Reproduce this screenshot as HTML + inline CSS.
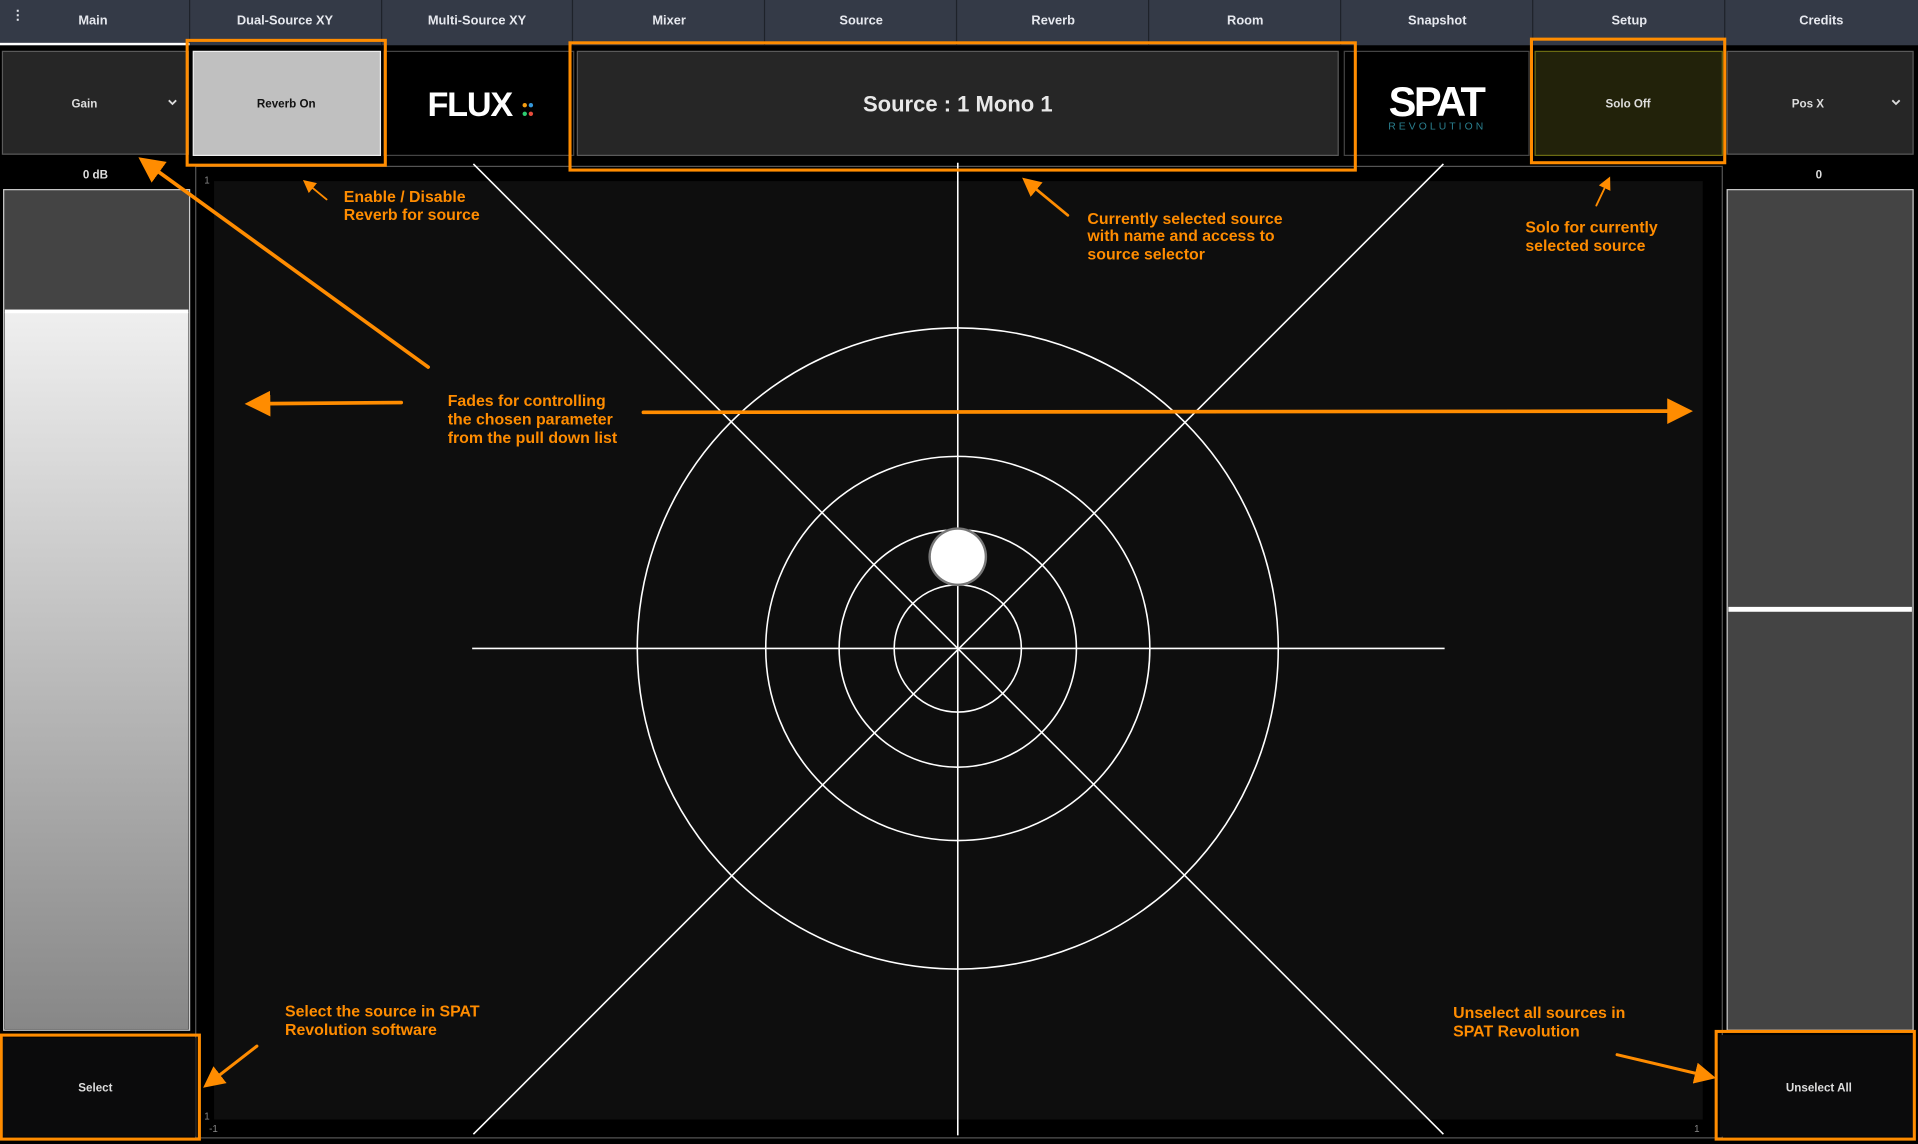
<!DOCTYPE html>
<html><head><meta charset="utf-8"><style>
html,body{margin:0;padding:0;background:#000;overflow:hidden}
svg{display:block}
text{font-family:"Liberation Sans",sans-serif}
</style></head><body>
<svg width="1918" height="1144" viewBox="0 0 1568 935" preserveAspectRatio="none" xmlns="http://www.w3.org/2000/svg">
<defs>
<linearGradient id="g" x1="0" y1="0" x2="0" y2="1"><stop offset="0" stop-color="#efefef"/><stop offset="1" stop-color="#878787"/></linearGradient>
<marker id="ah2" markerWidth="7" markerHeight="7" refX="5" refY="3.5" orient="auto" markerUnits="strokeWidth"><path d="M0,0 L7,3.5 L0,7 z" fill="#ff8c00"/></marker>
</defs>
<rect width="1568" height="935" fill="#000"/>
<rect x="0" y="0" width="1568" height="37" fill="#343a47"/>
<g stroke="#1e222a" stroke-width="1">
<line x1="155" y1="0" x2="155" y2="37"/><line x1="312" y1="0" x2="312" y2="37"/><line x1="468" y1="0" x2="468" y2="37"/><line x1="625" y1="0" x2="625" y2="37"/><line x1="782" y1="0" x2="782" y2="37"/><line x1="939" y1="0" x2="939" y2="37"/><line x1="1096" y1="0" x2="1096" y2="37"/><line x1="1253" y1="0" x2="1253" y2="37"/><line x1="1410" y1="0" x2="1410" y2="37"/>
</g>
<rect x="0" y="35" width="155" height="2" fill="#fff"/>
<g fill="#e6e8ee" font-size="10.5" font-weight="bold" text-anchor="middle">
<text x="76" y="20">Main</text><text x="233" y="20">Dual-Source XY</text><text x="390" y="20">Multi-Source XY</text><text x="547" y="20">Mixer</text><text x="704" y="20">Source</text><text x="861" y="20">Reverb</text><text x="1018" y="20">Room</text><text x="1175" y="20">Snapshot</text><text x="1332" y="20">Setup</text><text x="1489" y="20">Credits</text>
</g>
<text x="9" y="16" fill="#e6e8ee" font-size="11" font-weight="bold">⋮</text>
<rect x="2" y="42" width="152" height="84" fill="#262626" stroke="#5a5a5a"/>
<text x="69" y="88" fill="#ddd" font-size="9.5" font-weight="bold" text-anchor="middle">Gain</text>
<path d="M138,82 l3,3 l3,-3" stroke="#ddd" stroke-width="1.5" fill="none"/>
<rect x="158" y="42" width="153" height="85" fill="#c0c0c0" stroke="#eee"/>
<text x="234" y="88" fill="#111" font-size="9.5" font-weight="bold" text-anchor="middle">Reverb On</text>
<rect x="314" y="42" width="155" height="85" fill="#000" stroke="#444"/>
<text x="384" y="95" fill="#fff" font-size="28" font-weight="bold" text-anchor="middle" letter-spacing="-1">FLUX</text>
<circle cx="429" cy="86" r="1.8" fill="#f39c12"/><circle cx="434" cy="86" r="1.8" fill="#3498db"/><circle cx="429" cy="93" r="1.8" fill="#2ecc71"/><circle cx="434" cy="93" r="1.8" fill="#e74c3c"/>
<rect x="472" y="42" width="622" height="85" fill="#262626" stroke="#5a5a5a"/>
<text x="783" y="91" fill="#e8e8e8" font-size="18" font-weight="bold" text-anchor="middle">Source : 1 Mono 1</text>
<rect x="1099" y="42" width="151" height="85" fill="#000" stroke="#444"/>
<text x="1174" y="95" fill="#fff" font-size="34" font-weight="bold" text-anchor="middle" letter-spacing="-2">SPAT</text>
<text x="1175" y="106" fill="#2a7f8f" font-size="8.5" text-anchor="middle" letter-spacing="2.5">REVOLUTION</text>
<rect x="1255" y="42" width="153" height="85" fill="#22220a" stroke="#6b6b12"/>
<text x="1331" y="88" fill="#ddd" font-size="9.5" font-weight="bold" text-anchor="middle">Solo Off</text>
<rect x="1412" y="42" width="152" height="84" fill="#262626" stroke="#5a5a5a"/>
<text x="1478" y="88" fill="#ddd" font-size="9.5" font-weight="bold" text-anchor="middle">Pos X</text>
<path d="M1547,82 l3,3 l3,-3" stroke="#ddd" stroke-width="1.5" fill="none"/>
<text x="78" y="146" fill="#ddd" font-size="9.5" font-weight="bold" text-anchor="middle">0 dB</text>
<text x="1487" y="146" fill="#ddd" font-size="9.5" font-weight="bold" text-anchor="middle">0</text>
<rect x="3" y="155" width="152" height="687" fill="#444" stroke="#ccc"/>
<rect x="4" y="255" width="150" height="586" fill="url(#g)"/>
<rect x="4" y="253" width="150" height="3" fill="#fff"/>
<rect x="1412" y="155" width="152" height="687" fill="#444" stroke="#ccc"/>
<rect x="1413" y="496" width="150" height="4" fill="#fff"/>
<rect x="160" y="136" width="1248" height="794" fill="#000" stroke="#555"/>
<rect x="175" y="148" width="1217" height="767" fill="#0e0e0e"/>
<g stroke="#fff" stroke-width="1.3" fill="none">
<line x1="783" y1="133" x2="783" y2="928"/>
<line x1="386" y1="530" x2="1181" y2="530"/>
<line x1="387" y1="134" x2="1180" y2="927"/>
<line x1="1180" y1="134" x2="387" y2="927"/>
<circle cx="783" cy="530" r="52"/><circle cx="783" cy="530" r="97"/><circle cx="783" cy="530" r="157"/><circle cx="783" cy="530" r="262"/>
</g>
<circle cx="783" cy="455" r="24" fill="#777"/>
<circle cx="783" cy="455" r="22" fill="#fff"/>
<g fill="#888" font-size="8"><text x="167" y="150">1</text><text x="167" y="915">1</text><text x="171" y="925">-1</text><text x="1385" y="925">1</text></g>
<rect x="2" y="848" width="158" height="81" fill="#0b0b0c"/>
<text x="78" y="892" fill="#ddd" font-size="9.5" font-weight="bold" text-anchor="middle">Select</text>
<rect x="1406" y="846" width="158" height="83" fill="#0b0b0c"/>
<text x="1487" y="892" fill="#ddd" font-size="9.5" font-weight="bold" text-anchor="middle">Unselect All</text>
<g fill="none" stroke="#ff8c00" stroke-width="2.5">
<rect x="153" y="33" width="162" height="102"/>
<rect x="466" y="35" width="642" height="104"/>
<rect x="1252" y="32" width="158" height="101"/>
<rect x="1" y="846" width="162" height="85"/>
<rect x="1403" y="843" width="162" height="88"/>
</g>
<g stroke="#ff8c00" fill="none" stroke-linecap="round">
<line x1="350" y1="300" x2="118" y2="132" stroke-width="3" marker-end="url(#ah2)"/>
<line x1="267" y1="163" x2="250" y2="149" stroke-width="1.5" marker-end="url(#ah2)"/>
<line x1="328" y1="329" x2="206" y2="330" stroke-width="3" marker-end="url(#ah2)"/>
<line x1="526" y1="337" x2="1378" y2="336" stroke-width="3" marker-end="url(#ah2)"/>
<line x1="873" y1="176" x2="839" y2="148" stroke-width="2.2" marker-end="url(#ah2)"/>
<line x1="1305" y1="168" x2="1315" y2="147" stroke-width="1.5" marker-end="url(#ah2)"/>
<line x1="210" y1="855" x2="170" y2="886" stroke-width="2.5" marker-end="url(#ah2)"/>
<line x1="1322" y1="862" x2="1398" y2="880" stroke-width="2.5" marker-end="url(#ah2)"/>
</g>
<g fill="#ff8c00" font-size="13" font-weight="bold">
<text x="281" y="165">Enable / Disable</text><text x="281" y="180">Reverb for source</text>
<text x="889" y="183">Currently selected source</text><text x="889" y="197">with name and access to</text><text x="889" y="212">source selector</text>
<text x="1247" y="190">Solo for currently</text><text x="1247" y="205">selected source</text>
<text x="366" y="332">Fades for controlling</text><text x="366" y="347">the chosen parameter</text><text x="366" y="362">from the pull down list</text>
<text x="233" y="831">Select the source in SPAT</text><text x="233" y="846">Revolution software</text>
<text x="1188" y="832">Unselect all sources in</text><text x="1188" y="847">SPAT Revolution</text>
</g>
</svg>
</body></html>
